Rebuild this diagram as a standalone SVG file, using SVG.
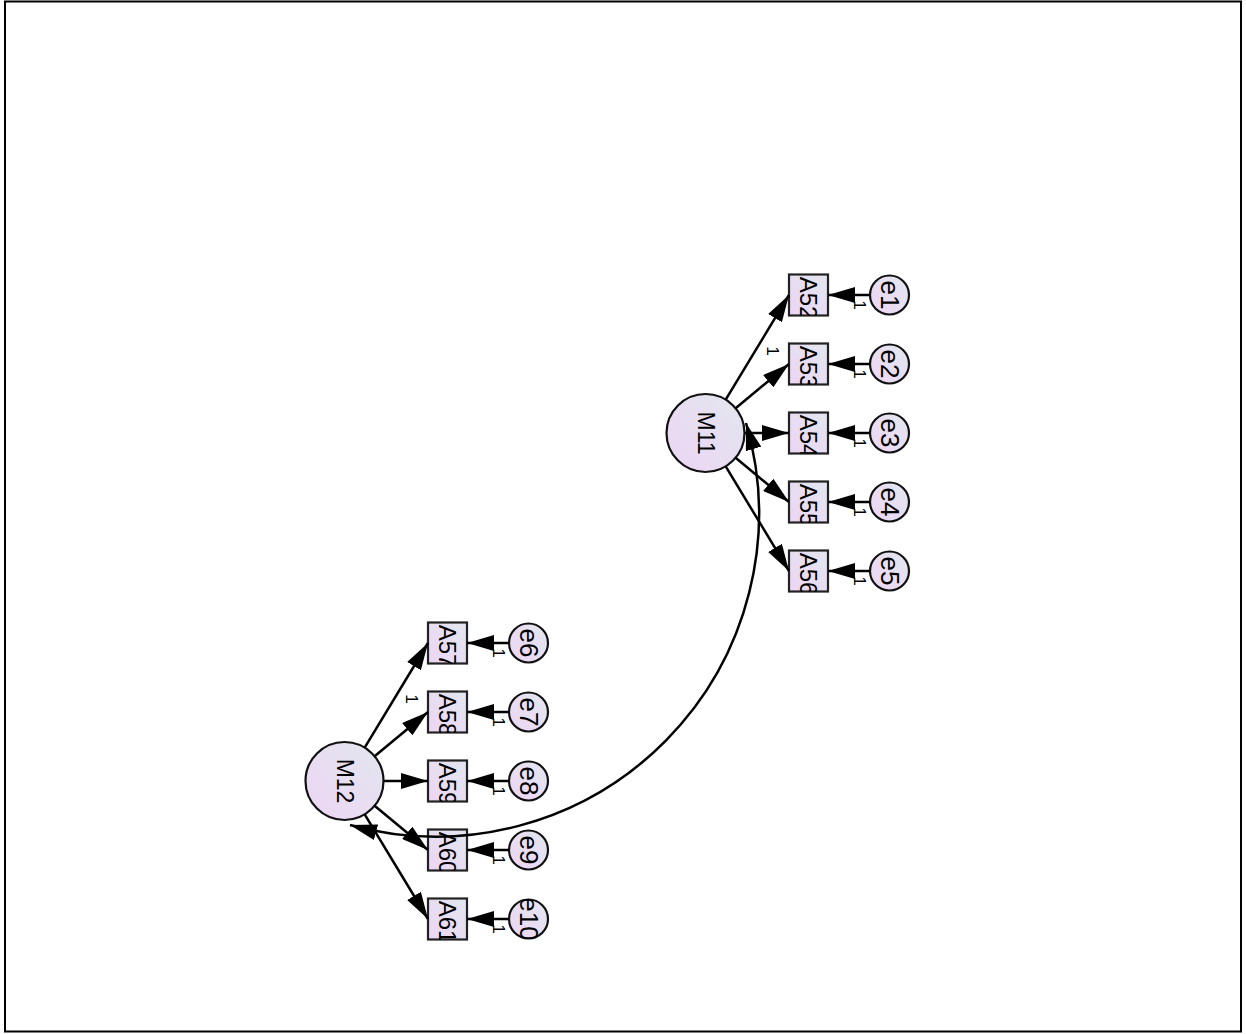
<svg xmlns="http://www.w3.org/2000/svg" width="1246" height="1034" viewBox="0 0 1246 1034">
  <defs>
    <linearGradient id="fillGrad" x1="1" y1="0" x2="0" y2="1">
      <stop offset="0" stop-color="#e2e7ee"/>
      <stop offset="1" stop-color="#edd5f5"/>
    </linearGradient>
    <marker id="ah" markerWidth="27" markerHeight="16" refX="27" refY="8" orient="auto-start-reverse" markerUnits="userSpaceOnUse">
      <path d="M0,0 L27,8 L0,16 Z" fill="#000"/>
    </marker>
  </defs>
  <style>
    .frame { fill: #fff; stroke: #000; stroke-width: 2; }
    .latent { fill: url(#fillGrad); stroke: #111; stroke-width: 2.2; }
    .obs { fill: url(#fillGrad); stroke: #222; stroke-width: 2.2; }
    .err { fill: url(#fillGrad); stroke: #111; stroke-width: 2.2; }
    .lbl { font-family: "Liberation Sans", Arial, sans-serif; font-size: 24px; fill: #000; text-anchor: middle; dominant-baseline: central; }
    .lbl-l { font-size: 23px; }
    .lbl-e { font-size: 26px; }
    .one { font-family: "Liberation Sans", Arial, sans-serif; font-size: 17px; fill: #000; text-anchor: middle; dominant-baseline: central; }
    .path { fill: none; stroke: #000; stroke-width: 2.5; marker-end: url(#ah); }
    .cov { fill: none; stroke: #000; stroke-width: 2.5; marker-start: url(#ah); marker-end: url(#ah); }
  </style>

  <rect class="frame" x="5" y="1.5" width="1236" height="1030"/>

  <!-- latent factors -->
  <g id="M11">
    <circle class="latent" cx="705.5" cy="433" r="39"/>
    <text class="lbl lbl-l" transform="translate(705.5,433) rotate(90)">M11</text>
  </g>
  <g id="M12">
    <circle class="latent" cx="344.5" cy="781" r="39"/>
    <text class="lbl lbl-l" transform="translate(344.5,781) rotate(90)">M12</text>
  </g>

  <!-- indicators of M11 (labels clipped to the box) -->
  <g id="A52"><rect class="obs" x="789" y="274.5" width="39" height="41"/><svg x="789" y="274.5" width="39" height="41"><text class="lbl" transform="translate(19.5,23.5) rotate(90)">A52</text></svg></g>
  <g id="A53"><rect class="obs" x="789" y="343.5" width="39" height="41"/><svg x="789" y="343.5" width="39" height="41"><text class="lbl" transform="translate(19.5,23.5) rotate(90)">A53</text></svg></g>
  <g id="A54"><rect class="obs" x="789" y="412.5" width="39" height="41"/><svg x="789" y="412.5" width="39" height="41"><text class="lbl" transform="translate(19.5,23.5) rotate(90)">A54</text></svg></g>
  <g id="A55"><rect class="obs" x="789" y="481.5" width="39" height="41"/><svg x="789" y="481.5" width="39" height="41"><text class="lbl" transform="translate(19.5,23.5) rotate(90)">A55</text></svg></g>
  <g id="A56"><rect class="obs" x="789" y="550.5" width="39" height="41"/><svg x="789" y="550.5" width="39" height="41"><text class="lbl" transform="translate(19.5,23.5) rotate(90)">A56</text></svg></g>

  <!-- indicators of M12 -->
  <g id="A57"><rect class="obs" x="428" y="622.5" width="39" height="41"/><svg x="428" y="622.5" width="39" height="41"><text class="lbl" transform="translate(19.5,23.5) rotate(90)">A57</text></svg></g>
  <g id="A58"><rect class="obs" x="428" y="691.5" width="39" height="41"/><svg x="428" y="691.5" width="39" height="41"><text class="lbl" transform="translate(19.5,23.5) rotate(90)">A58</text></svg></g>
  <g id="A59"><rect class="obs" x="428" y="760.5" width="39" height="41"/><svg x="428" y="760.5" width="39" height="41"><text class="lbl" transform="translate(19.5,23.5) rotate(90)">A59</text></svg></g>
  <g id="A60"><rect class="obs" x="428" y="829.5" width="39" height="41"/><svg x="428" y="829.5" width="39" height="41"><text class="lbl" transform="translate(19.5,23.5) rotate(90)">A60</text></svg></g>
  <g id="A61"><rect class="obs" x="428" y="898.5" width="39" height="41"/><svg x="428" y="898.5" width="39" height="41"><text class="lbl" transform="translate(19.5,23.5) rotate(90)">A61</text></svg></g>

  <!-- error terms -->
  <g id="e1"><circle class="err" cx="889.5" cy="295" r="19.5"/><svg x="870" y="275.5" width="39" height="39"><text class="lbl lbl-e" transform="translate(19.5,19.5) rotate(90)">e1</text></svg></g>
  <g id="e2"><circle class="err" cx="889.5" cy="364" r="19.5"/><svg x="870" y="344.5" width="39" height="39"><text class="lbl lbl-e" transform="translate(19.5,19.5) rotate(90)">e2</text></svg></g>
  <g id="e3"><circle class="err" cx="889.5" cy="433" r="19.5"/><svg x="870" y="413.5" width="39" height="39"><text class="lbl lbl-e" transform="translate(19.5,19.5) rotate(90)">e3</text></svg></g>
  <g id="e4"><circle class="err" cx="889.5" cy="502" r="19.5"/><svg x="870" y="482.5" width="39" height="39"><text class="lbl lbl-e" transform="translate(19.5,19.5) rotate(90)">e4</text></svg></g>
  <g id="e5"><circle class="err" cx="889.5" cy="571" r="19.5"/><svg x="870" y="551.5" width="39" height="39"><text class="lbl lbl-e" transform="translate(19.5,19.5) rotate(90)">e5</text></svg></g>
  <g id="e6"><circle class="err" cx="528.5" cy="643" r="19.5"/><svg x="509" y="623.5" width="39" height="39"><text class="lbl lbl-e" transform="translate(19.5,19.5) rotate(90)">e6</text></svg></g>
  <g id="e7"><circle class="err" cx="528.5" cy="712" r="19.5"/><svg x="509" y="692.5" width="39" height="39"><text class="lbl lbl-e" transform="translate(19.5,19.5) rotate(90)">e7</text></svg></g>
  <g id="e8"><circle class="err" cx="528.5" cy="781" r="19.5"/><svg x="509" y="761.5" width="39" height="39"><text class="lbl lbl-e" transform="translate(19.5,19.5) rotate(90)">e8</text></svg></g>
  <g id="e9"><circle class="err" cx="528.5" cy="850" r="19.5"/><svg x="509" y="830.5" width="39" height="39"><text class="lbl lbl-e" transform="translate(19.5,19.5) rotate(90)">e9</text></svg></g>
  <g id="e10"><circle class="err" cx="528.5" cy="919" r="19.5"/><svg x="509" y="899.5" width="39" height="39"><text class="lbl lbl-e" transform="translate(19.5,19.5) rotate(90)">e10</text></svg></g>

  <!-- paths and covariance -->
  <g id="connectors">
    <line class="path" x1="725.7" y1="399.6" x2="789" y2="295"/>
    <line class="path" x1="735.6" y1="408.2" x2="789" y2="364"/>
    <line class="path" x1="744.5" y1="433" x2="789" y2="433"/>
    <line class="path" x1="735.6" y1="457.8" x2="789" y2="502"/>
    <line class="path" x1="725.7" y1="466.4" x2="789" y2="571"/>

    <line class="path" x1="364.7" y1="747.6" x2="428" y2="643"/>
    <line class="path" x1="374.6" y1="756.2" x2="428" y2="712"/>
    <line class="path" x1="383.5" y1="781" x2="428" y2="781"/>
    <line class="path" x1="374.6" y1="805.8" x2="428" y2="850"/>
    <line class="path" x1="364.7" y1="814.4" x2="428" y2="919"/>

    <line class="path" x1="870" y1="295" x2="828" y2="295"/>
    <line class="path" x1="870" y1="364" x2="828" y2="364"/>
    <line class="path" x1="870" y1="433" x2="828" y2="433"/>
    <line class="path" x1="870" y1="502" x2="828" y2="502"/>
    <line class="path" x1="870" y1="571" x2="828" y2="571"/>

    <line class="path" x1="509" y1="643" x2="467" y2="643"/>
    <line class="path" x1="509" y1="712" x2="467" y2="712"/>
    <line class="path" x1="509" y1="781" x2="467" y2="781"/>
    <line class="path" x1="509" y1="850" x2="467" y2="850"/>
    <line class="path" x1="509" y1="919" x2="467" y2="919"/>

    <path class="cov" d="M 746 423 A 323 323 0 0 1 350 825"/>

    <!-- fixed weights -->
    <text class="one" transform="translate(772,351) rotate(90)">1</text>
    <text class="one" transform="translate(411,699) rotate(90)">1</text>
    <text class="one" transform="translate(859,305) rotate(90)">1</text>
    <text class="one" transform="translate(859,374) rotate(90)">1</text>
    <text class="one" transform="translate(859,443) rotate(90)">1</text>
    <text class="one" transform="translate(859,512) rotate(90)">1</text>
    <text class="one" transform="translate(859,581) rotate(90)">1</text>
    <text class="one" transform="translate(498,653) rotate(90)">1</text>
    <text class="one" transform="translate(498,722) rotate(90)">1</text>
    <text class="one" transform="translate(498,791) rotate(90)">1</text>
    <text class="one" transform="translate(498,860) rotate(90)">1</text>
    <text class="one" transform="translate(498,929) rotate(90)">1</text>
  </g>
</svg>
